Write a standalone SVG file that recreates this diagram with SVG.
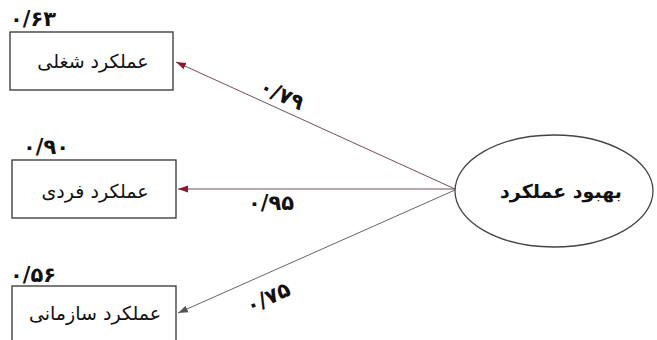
<svg xmlns="http://www.w3.org/2000/svg" width="657" height="340" viewBox="0 0 657 340">
<style>
.box{fill:#fff;stroke:#333;stroke-width:1.3}
.lbl{font-family:"DejaVu Sans",sans-serif;font-size:19px;fill:#111;text-anchor:middle}
.num{font-family:"DejaVu Sans",sans-serif;font-size:21px;font-weight:bold;fill:#111;text-anchor:middle}
.red{stroke:#6e5058;stroke-width:1}
.gray{stroke:#666;stroke-width:1}
</style>
<defs>
<marker id="ar" viewBox="0 0 10 10" refX="10" refY="5" markerWidth="10" markerHeight="10" markerUnits="userSpaceOnUse" orient="auto"><path d="M0,1.5 L10,5 L0,8.5 z" fill="#8b1a2e"/></marker>
<marker id="ag" viewBox="0 0 10 10" refX="10" refY="5" markerWidth="10" markerHeight="10" markerUnits="userSpaceOnUse" orient="auto"><path d="M0,1.5 L10,5 L0,8.5 z" fill="#555"/></marker>
</defs>
<rect width="657" height="340" fill="#fff"/>
<g id="connectors">
<line class="red" x1="455" y1="189" x2="176" y2="62" marker-end="url(#ar)"/>
<line class="red" x1="455" y1="189" x2="178" y2="189" marker-end="url(#ar)"/>
<line class="gray" x1="455" y1="190" x2="178" y2="313" marker-end="url(#ag)"/>
<text class="num" transform="translate(279,101) rotate(24.5)">۰/۷۹</text>
<text class="num" x="271" y="210">۰/۹۵</text>
<text class="num" transform="translate(271,304) rotate(-24)">۰/۷۵</text>
</g>
<g id="node-job">
<text class="num" x="33" y="26">۰/۶۳</text>
<rect class="box" x="10" y="32" width="163" height="58"/>
<text class="lbl" x="93" y="68">عملکرد شغلی</text>
</g>
<g id="node-individual">
<text class="num" x="46" y="154">۰/۹۰</text>
<rect class="box" x="12" y="160" width="164" height="58"/>
<text class="lbl" x="95" y="198">عملکرد فردی</text>
</g>
<g id="node-org">
<text class="num" x="33" y="282">۰/۵۶</text>
<rect class="box" x="12" y="286" width="164" height="60"/>
<text class="lbl" x="95" y="320">عملکرد سازمانی</text>
</g>
<g id="node-improve">
<ellipse cx="554" cy="191" rx="99" ry="56" fill="#fff" stroke="#444" stroke-width="1.3"/>
<text class="lbl" x="561" y="198" font-weight="bold">بهبود عملکرد</text>
</g>
</svg>
